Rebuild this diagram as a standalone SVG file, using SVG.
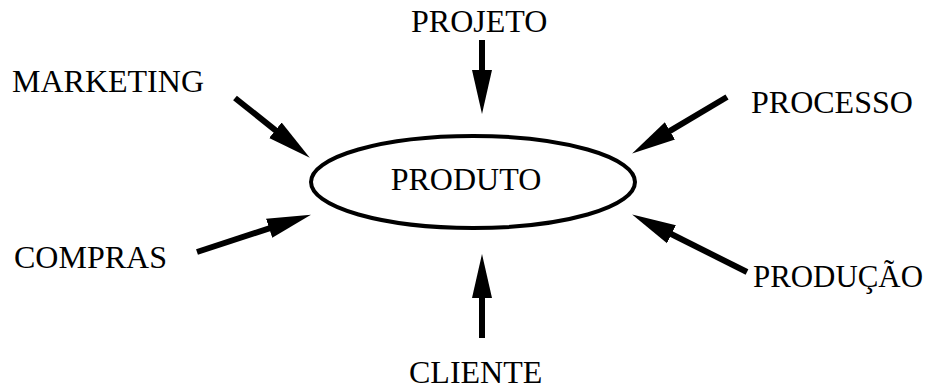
<svg xmlns="http://www.w3.org/2000/svg" width="928" height="392" viewBox="0 0 928 392">
<style>
  text { font-family: "Liberation Serif", "Times New Roman", serif; font-size: 32px; fill: #000; }
  .conn line { stroke: #000; stroke-width: 6; }
</style>
<defs>
  <marker id="head" markerUnits="userSpaceOnUse" markerWidth="46" markerHeight="22" viewBox="0 -11 46 22" refX="21" refY="0" orient="auto">
    <path d="M0,-10 L44,0 L0,10 Z" fill="#000"/>
  </marker>
</defs>
<rect width="928" height="392" fill="#fff"/>
<g id="produto">
  <ellipse cx="473" cy="182" rx="162" ry="46" fill="none" stroke="#000" stroke-width="4"/>
  <text x="466" y="190" text-anchor="middle">PRODUTO</text>
</g>
<g id="projeto"><text x="411" y="32">PROJETO</text></g>
<g id="marketing"><text x="12" y="92">MARKETING</text></g>
<g id="processo"><text x="751" y="113">PROCESSO</text></g>
<g id="compras"><text x="14" y="268">COMPRAS</text></g>
<g id="producao"><text x="753" y="287" textLength="170" lengthAdjust="spacingAndGlyphs">PRODUÇÃO</text></g>
<g id="cliente"><text x="409" y="383">CLIENTE</text></g>
<g class="conn" id="connectors">
  <line x1="235" y1="98" x2="291.8" y2="143.3" marker-end="url(#head)"/>
  <line x1="197" y1="252" x2="289.1" y2="221.8" marker-end="url(#head)"/>
  <line x1="727" y1="97" x2="651.9" y2="141.7" marker-end="url(#head)"/>
  <line x1="747" y1="272" x2="652.7" y2="224.8" marker-end="url(#head)"/>
  <line x1="482" y1="40" x2="482" y2="91" marker-end="url(#head)"/>
  <line x1="482" y1="338" x2="482" y2="277" marker-end="url(#head)"/>
</g>
</svg>
